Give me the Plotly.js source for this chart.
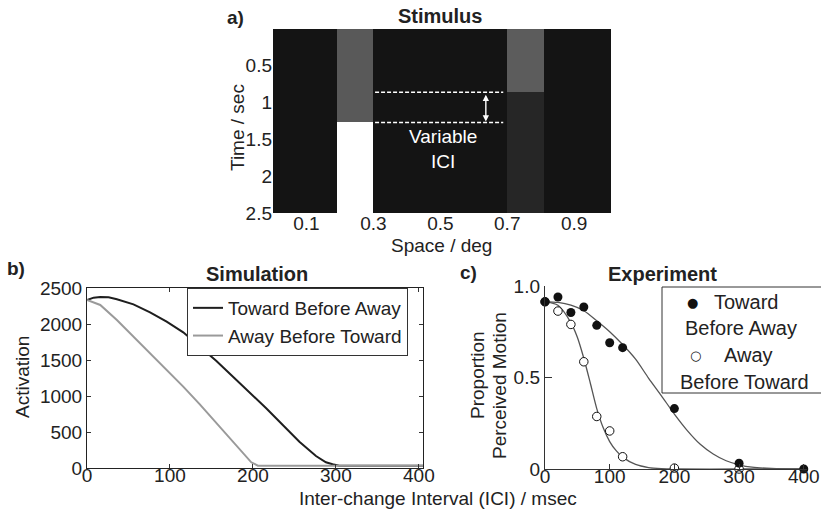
<!DOCTYPE html>
<html>
<head>
<meta charset="utf-8">
<script src="https://cdn.plot.ly/plotly-3.0.1.min.js"></script>
<style>
  html, body { margin: 0; padding: 0; background: #fff; }
  #chart { width: 821px; height: 513px; }
</style>
</head>
<body>
<div id="chart"></div>
<script>
// ---------- Data ----------
// Panel a: stimulus (space x time intensity map, 0 = black, 1 = white)
const spaceEdges = [0, 0.19, 0.30, 0.70, 0.81, 1.01];
const timeEdges = [0, 0.86, 1.27, 2.5];
const stimulusIntensity = [
  [0.08, 0.35, 0.08, 0.36, 0.08],
  [0.08, 0.35, 0.08, 0.15, 0.08],
  [0.08, 1.00, 0.08, 0.15, 0.08]
];
const spaceTicks = [0.1, 0.3, 0.5, 0.7, 0.9];
const spaceTickText = ['0.1', '0.3', '0.5', '0.7', '0.9'];
const timeTicks = [0.5, 1, 1.5, 2, 2.5];
const timeTickText = ['0.5', '1', '1.5', '2', '2.5'];

// Panel b: simulation
const towardSimX = [0, 8, 16, 26, 36, 56, 76, 96, 116, 136, 156, 176, 196, 216, 236, 256, 276, 288, 296, 304, 320, 360, 405];
const towardSimY = [2333, 2366, 2375, 2370, 2343, 2273, 2162, 2032, 1884, 1685, 1486, 1268, 1051, 829, 597, 366, 167, 79, 51, 32, 30, 30, 30];
const awaySimX = [0, 16, 36, 56, 76, 96, 116, 136, 156, 176, 188, 198, 206, 220, 300, 405];
const awaySimY = [2333, 2264, 2055, 1824, 1593, 1361, 1130, 884, 620, 366, 204, 79, 32, 30, 30, 30];
const simTicks = [0, 100, 200, 300, 400];
const activationTicks = [0, 500, 1000, 1500, 2000, 2500];

// Panel c: experiment
const towardExpX = [0, 20, 40, 60, 80, 100, 120, 200, 300, 400];
const towardExpY = [0.914, 0.94, 0.855, 0.885, 0.785, 0.69, 0.663, 0.33, 0.032, 0.0];
const awayExpX = [0, 20, 40, 60, 80, 100, 120, 200, 300];
const awayExpY = [0.914, 0.863, 0.79, 0.586, 0.287, 0.208, 0.067, 0.005, 0.0];
const towardFitX = [0, 20, 40, 60, 80, 100, 120, 140, 160, 180, 200, 220, 240, 260, 280, 300, 320, 350, 400];
const towardFitY = [0.915, 0.91, 0.895, 0.865, 0.81, 0.75, 0.68, 0.6, 0.497, 0.4, 0.3, 0.21, 0.135, 0.082, 0.045, 0.023, 0.01, 0.003, 0.0];
const awayFitX = [0, 20, 40, 50, 60, 70, 80, 90, 100, 110, 120, 140, 160, 180, 200, 300, 400];
const awayFitY = [0.915, 0.895, 0.8, 0.72, 0.605, 0.47, 0.33, 0.225, 0.15, 0.1, 0.065, 0.025, 0.008, 0.002, 0.0, 0.0, 0.0];
const expXTicks = [0, 100, 200, 300, 400];
const proportionTicks = [0, 0.5, 1];
const proportionTickText = ['0', '0.5', '1.0'];

// ---------- Helpers (pixel -> paper) ----------
const W = 821, H = 513;
const px = v => v / W;
const py = v => 1 - v / H;
const FONT = 'Liberation Sans, Arial, Helvetica, sans-serif';
const INK = '#222';

function label(x, y, text, opts) {
  return Object.assign({
    xref: 'paper', yref: 'paper', x: px(x), y: py(y), text: text, showarrow: false,
    xanchor: 'center', yanchor: 'middle',
    font: { family: FONT, size: 19, color: INK }
  }, opts || {});
}

const traces = [
  {
    type: 'heatmap', x: spaceEdges, y: timeEdges, z: stimulusIntensity,
    colorscale: [[0, '#000000'], [1, '#ffffff']], zmin: 0, zmax: 1,
    showscale: false, xaxis: 'x', yaxis: 'y', hoverinfo: 'skip'
  },
  {
    type: 'scatter', mode: 'lines', x: towardSimX, y: towardSimY,
    name: 'Toward Before Away', xaxis: 'x2', yaxis: 'y2',
    line: { color: '#1e1e1e', width: 2 }
  },
  {
    type: 'scatter', mode: 'lines', x: awaySimX, y: awaySimY,
    name: 'Away Before Toward', xaxis: 'x2', yaxis: 'y2',
    line: { color: '#9a9a9a', width: 2 }
  },
  {
    type: 'scatter', mode: 'lines', x: towardFitX, y: towardFitY,
    xaxis: 'x3', yaxis: 'y3', showlegend: false, cliponaxis: false,
    line: { color: '#555', width: 1.3, shape: 'spline', smoothing: 0.8 }
  },
  {
    type: 'scatter', mode: 'lines', x: awayFitX, y: awayFitY,
    xaxis: 'x3', yaxis: 'y3', showlegend: false, cliponaxis: false,
    line: { color: '#555', width: 1.3, shape: 'spline', smoothing: 0.8 }
  },
  {
    type: 'scatter', mode: 'markers', x: awayExpX, y: awayExpY,
    name: 'Away Before Toward', xaxis: 'x3', yaxis: 'y3', showlegend: false, cliponaxis: false,
    marker: { symbol: 'circle', size: 8.5, color: '#fff', line: { color: '#111', width: 1 } }
  },
  {
    type: 'scatter', mode: 'markers', x: towardExpX, y: towardExpY,
    name: 'Toward Before Away', xaxis: 'x3', yaxis: 'y3', showlegend: false, cliponaxis: false,
    marker: { symbol: 'circle', size: 9, color: '#111' }
  }
];

const axisCommon = {
  showgrid: false, zeroline: false, color: INK,
  tickfont: { family: FONT, size: 19, color: INK }
};

const layout = {
  width: W, height: H,
  margin: { l: 0, r: 0, t: 0, b: 0 },
  paper_bgcolor: '#fff', plot_bgcolor: '#fff',
  font: { family: FONT, size: 19, color: INK },
  showlegend: true,
  legend: {
    x: px(187), y: py(288), xanchor: 'left', yanchor: 'top',
    bordercolor: '#333', borderwidth: 1, bgcolor: '#fff',
    font: { family: FONT, size: 19, color: INK }, itemwidth: 30
  },
  xaxis: Object.assign({}, axisCommon, {
    domain: [px(273), px(611)], range: [0, 1.01], anchor: 'y',
    tickmode: 'array', tickvals: spaceTicks, ticktext: spaceTickText,
    ticks: '', showline: false, ticklabelstandoff: -3
  }),
  yaxis: Object.assign({}, axisCommon, {
    domain: [py(213), py(29)], range: [2.5, 0], anchor: 'x',
    tickmode: 'array', tickvals: timeTicks, ticktext: timeTickText,
    ticks: '', showline: false
  }),
  xaxis2: Object.assign({}, axisCommon, {
    domain: [px(87), px(423)], range: [0, 405], anchor: 'y2',
    tickmode: 'array', tickvals: simTicks,
    ticks: 'inside', ticklen: 4, tickcolor: '#333',
    showline: true, linecolor: '#222', linewidth: 1, mirror: 'ticks',
    ticklabelstandoff: -10
  }),
  yaxis2: Object.assign({}, axisCommon, {
    domain: [py(468), py(288)], range: [0, 2500], anchor: 'x2',
    tickmode: 'array', tickvals: activationTicks,
    ticks: 'inside', ticklen: 4, tickcolor: '#333',
    showline: true, linecolor: '#222', linewidth: 1, mirror: 'ticks'
  }),
  xaxis3: Object.assign({}, axisCommon, {
    domain: [px(545), px(807)], range: [0, 405], anchor: 'y3',
    tickmode: 'array', tickvals: expXTicks,
    ticks: 'inside', ticklen: 5, tickcolor: '#333',
    showline: true, linecolor: '#333', linewidth: 1.2,
    ticklabelstandoff: -10
  }),
  yaxis3: Object.assign({}, axisCommon, {
    domain: [py(469), py(286)], range: [0, 1], anchor: 'x3',
    tickmode: 'array', tickvals: proportionTicks, ticktext: proportionTickText,
    ticks: 'inside', ticklen: 7, tickcolor: '#333',
    showline: true, linecolor: '#333', linewidth: 1.2
  }),
  shapes: [
    { type: 'line', xref: 'x', yref: 'y', x0: 0.305, x1: 0.688, y0: timeEdges[1], y1: timeEdges[1],
      line: { color: '#fff', width: 1.5, dash: '4px,2px' } },
    { type: 'line', xref: 'x', yref: 'y', x0: 0.305, x1: 0.688, y0: timeEdges[2], y1: timeEdges[2],
      line: { color: '#fff', width: 1.5, dash: '4px,2px' } },
    { type: 'rect', xref: 'paper', yref: 'paper', x0: px(662), x1: px(832), y0: py(393), y1: py(287),
      line: { color: '#333', width: 1 }, fillcolor: '#fff', layer: 'above' }
  ],
  annotations: [
    // double arrow (Variable ICI)
    { xref: 'x', yref: 'y', axref: 'x', ayref: 'y', x: 0.636, y: timeEdges[2], ax: 0.636, ay: timeEdges[1],
      text: '', showarrow: true, arrowside: 'end+start', arrowhead: 2, arrowsize: 0.9,
      arrowwidth: 1.4, arrowcolor: '#fff', standoff: 1, startstandoff: 1 },
    { xref: 'x', yref: 'y', x: 0.508, y: 1.63, text: 'Variable<br>ICI', showarrow: false,
      xanchor: 'center', yanchor: 'middle',
      font: { family: FONT, size: 19, color: '#fff' } },
    // titles
    label(440, 16, '<b>Stimulus</b>', { font: { family: FONT, size: 20, color: INK } }),
    label(257, 274, '<b>Simulation</b>', { font: { family: FONT, size: 20, color: INK } }),
    label(662, 274, '<b>Experiment</b>', { font: { family: FONT, size: 20, color: INK } }),
    // panel labels
    label(235, 17, '<b>a)</b>'),
    label(16, 268, '<b>b)</b>'),
    label(468, 272, '<b>c)</b>'),
    // axis titles
    label(237, 128, 'Time / sec', { textangle: -90 }),
    label(442, 245, 'Space / deg'),
    label(22, 377, 'Activation', { textangle: -90 }),
    label(438, 498, 'Inter-change Interval (ICI) / msec'),
    label(477, 375, 'Proportion', { textangle: -90 }),
    label(499, 386, 'Perceived Motion', { textangle: -90 }),
    // panel c legend
    label(692, 302, '●', { font: { family: 'DejaVu Sans, sans-serif', size: 13, color: '#111' } }),
    label(712, 302, 'Toward', { xanchor: 'left', font: { family: FONT, size: 20, color: INK } }),
    label(683, 328, 'Before Away', { xanchor: 'left', font: { family: FONT, size: 20, color: INK } }),
    label(695, 355, '○', { font: { family: 'DejaVu Sans, sans-serif', size: 13, color: '#111' } }),
    label(722, 355, 'Away', { xanchor: 'left', font: { family: FONT, size: 20, color: INK } }),
    label(678, 382, 'Before Toward', { xanchor: 'left', font: { family: FONT, size: 20, color: INK } })
  ]
};

Plotly.newPlot('chart', traces, layout, { displayModeBar: false, staticPlot: true });
</script>
</body>
</html>
